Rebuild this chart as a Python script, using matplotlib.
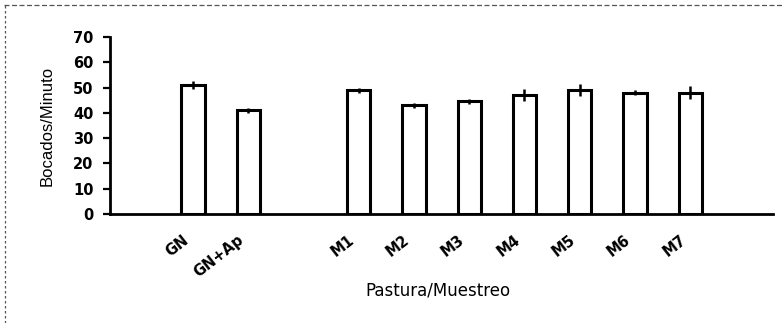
import matplotlib
matplotlib.use("Agg")
import matplotlib.pyplot as plt
import matplotlib.transforms as mtransforms
from matplotlib.lines import Line2D
import numpy as np

# categories in slot order; empty strings are blank slots
categorias = ["", "GN", "GN+Ap", "", "M1", "M2", "M3", "M4", "M5", "M6", "M7", ""]
valores = [0, 51, 41, 0, 49, 43, 44.5, 47, 49, 48, 48, 0]
errores = [0, 1.5, 1, 0, 1, 1, 1, 2.5, 2.5, 1, 2.5, 0]

plt.rcParams['font.family'] = ['DejaVu Sans']

fig = plt.figure(figsize=(7.82, 3.23), dpi=100)
ax = fig.add_axes([0.1407, 0.3375, 0.848, 0.548])

x = np.arange(len(categorias))
con_barra = [i for i, c in enumerate(categorias) if c]
ax.bar(x[con_barra], [valores[i] for i in con_barra], width=0.42,
       color='white', edgecolor='black', linewidth=2.2, zorder=2)
ax.errorbar(x[con_barra], [valores[i] for i in con_barra],
            yerr=[errores[i] for i in con_barra], fmt='none',
            ecolor='black', elinewidth=1.8, capsize=0, zorder=3)

ax.set_xlim(-0.5, len(categorias) - 0.5)
ax.set_ylim(0, 70)
ax.set_yticks(range(0, 71, 10))
ax.tick_params(axis='y', labelsize=10.5, width=1.6, length=5, pad=7, direction='out')
for lab in ax.get_yticklabels():
    lab.set_fontweight('bold')

ax.set_xticks(x[con_barra])
ax.set_xticklabels([categorias[i] for i in con_barra], rotation=38,
                   ha='right', rotation_mode='anchor', fontsize=10.5,
                   fontweight='semibold')
ax.tick_params(axis='x', length=0, pad=13)
desplaza = mtransforms.ScaledTranslation(-11 / 100, 0, fig.dpi_scale_trans)
for lab in ax.get_xticklabels():
    lab.set_transform(lab.get_transform() + desplaza)

for s in ['top', 'right']:
    ax.spines[s].set_visible(False)
ax.spines['left'].set_linewidth(2)
ax.spines['bottom'].set_linewidth(2)

ax.set_ylabel("Bocados/Minuto", fontsize=12,
              family=['Liberation Sans', 'DejaVu Sans'])
ax.yaxis.set_label_coords(-0.084, 0.5)
ax.set_xlabel("Pastura/Muestreo", fontsize=12)
ax.xaxis.set_label_coords(0.495, -0.38)

# scanned page frame
fig.add_artist(Line2D([0.005, 1.0], [0.985, 0.985], transform=fig.transFigure,
                      color='#555555', lw=0.9, ls=(0, (4, 2))))
fig.add_artist(Line2D([0.007, 0.007], [0.0, 0.985], transform=fig.transFigure,
                      color='#555555', lw=0.9, ls=(0, (2, 2))))

fig.savefig("out.png", dpi=100)
